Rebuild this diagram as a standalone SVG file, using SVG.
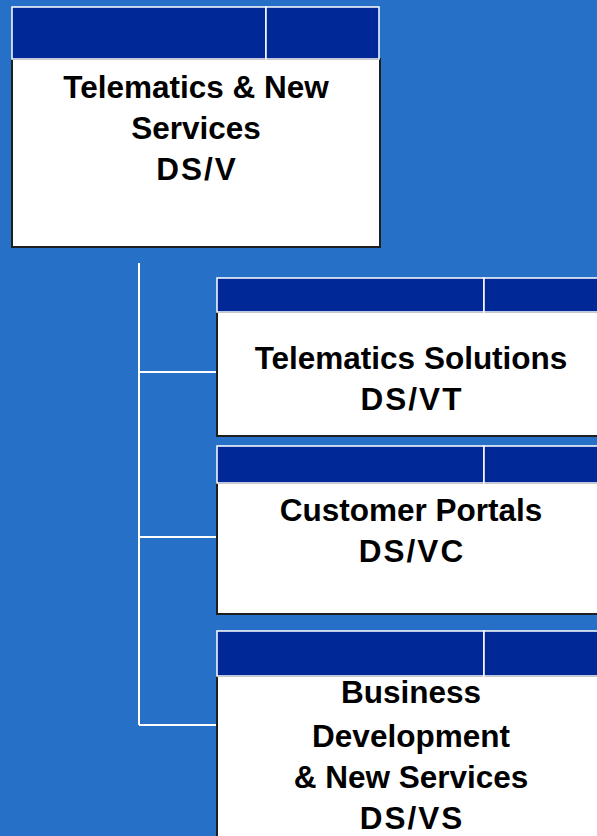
<svg xmlns="http://www.w3.org/2000/svg" width="597" height="836" viewBox="0 0 597 836">
<style>
.bg{fill:#2670c8}
.body{fill:#ffffff;stroke:#1e1e1e;stroke-width:2}
.hdr{fill:#002896;stroke:#ffffff;stroke-width:1.5}
.conn{stroke:#ffffff;stroke-width:2;fill:none}
.t{font-family:"Liberation Sans",Arial,sans-serif;font-weight:bold;font-size:31.5px;fill:#000;text-anchor:middle}
.code{letter-spacing:2px}
</style>
<rect class="bg" x="0" y="0" width="597" height="836"/>
<g id="connectors">
<path class="conn" d="M139 263 V725"/>
<path class="conn" d="M139 372 H217"/>
<path class="conn" d="M139 537 H217"/>
<path class="conn" d="M139 725 H217"/>
</g>
<g id="node-ds-v">
<rect class="body" x="12" y="59" width="368" height="188"/>
<rect class="hdr" x="12" y="7" width="254" height="52"/>
<rect class="hdr" x="266" y="7" width="113" height="52"/>
<text class="t" x="196" y="98">Telematics &amp; New</text>
<text class="t" x="196" y="139">Services</text>
<text class="t code" x="197" y="180">DS/V</text>
</g>
<g id="node-ds-vt">
<rect class="body" x="217" y="312" width="390" height="124"/>
<rect class="hdr" x="217" y="278" width="267" height="34"/>
<rect class="hdr" x="484" y="278" width="123" height="34"/>
<text class="t" x="411" y="369">Telematics Solutions</text>
<text class="t code" x="412" y="410">DS/VT</text>
</g>
<g id="node-ds-vc">
<rect class="body" x="217" y="483" width="390" height="131"/>
<rect class="hdr" x="217" y="446" width="267" height="37"/>
<rect class="hdr" x="484" y="446" width="123" height="37"/>
<text class="t" x="411" y="521">Customer Portals</text>
<text class="t code" x="412" y="562">DS/VC</text>
</g>
<g id="node-ds-vs">
<rect class="body" x="217" y="676" width="390" height="180"/>
<rect class="hdr" x="217" y="631" width="267" height="45"/>
<rect class="hdr" x="484" y="631" width="123" height="45"/>
<text class="t" x="411" y="703">Business</text>
<text class="t" x="411" y="747">Development</text>
<text class="t" x="411" y="788">&amp; New Services</text>
<text class="t code" x="412" y="829">DS/VS</text>
</g>
</svg>
